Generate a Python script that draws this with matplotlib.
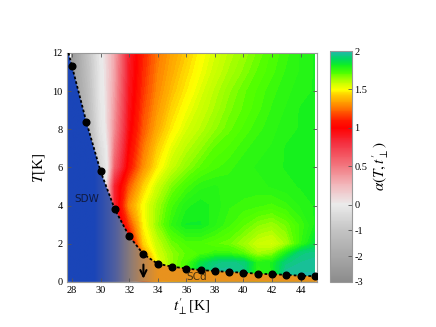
import numpy as np
import matplotlib
matplotlib.use('Agg')
import matplotlib.pyplot as plt
from matplotlib.colors import LinearSegmentedColormap, FuncNorm
from matplotlib.patches import Polygon
from matplotlib.cm import ScalarMappable

plt.rcParams['mathtext.fontset'] = 'stix'

# Rejilla de datos alpha(T, t_perp)
t_perp = [28, 29, 30, 31, 32, 33, 34, 35, 36, 37, 38, 39, 40, 41, 42, 43, 44, 45]
T_vals = [0, 0.5, 1, 1.5, 2, 3, 4, 5, 6, 7, 8, 9, 10, 11, 12]
alpha = [
    [-2, -2, -2, -2, -1, 1.0, 1.4, 1.6, 1.75, 1.9, 1.97, 1.97, 1.95, 1.75, 1.8, 1.97, 1.98, 1.98],
    [-2, -2, -2, -2, -1, 1.1, 1.45, 1.62, 1.75, 1.9, 1.97, 1.97, 1.95, 1.76, 1.8, 1.97, 1.98, 1.98],
    [-2, -2, -2, -1.5, 0, 1.2, 1.5, 1.65, 1.72, 1.85, 1.93, 1.95, 1.93, 1.78, 1.8, 1.93, 1.96, 1.97],
    [-2, -2, -2, -1.5, 0.5, 1.3, 1.55, 1.65, 1.7, 1.72, 1.75, 1.75, 1.7, 1.62, 1.65, 1.8, 1.93, 1.95],
    [-2, -2, -2, -1.0, 0.9, 1.42, 1.58, 1.68, 1.72, 1.72, 1.7, 1.68, 1.63, 1.57, 1.55, 1.62, 1.75, 1.85],
    [-2, -2, -2, 0.8, 1.15, 1.48, 1.65, 1.76, 1.82, 1.82, 1.78, 1.74, 1.7, 1.66, 1.64, 1.68, 1.74, 1.8],
    [-2, -2, -1.0, 0.85, 1.3, 1.5, 1.63, 1.73, 1.79, 1.81, 1.79, 1.76, 1.75, 1.74, 1.73, 1.75, 1.78, 1.8],
    [-2, -2, -0.5, 0.85, 1.2, 1.42, 1.57, 1.67, 1.73, 1.77, 1.78, 1.77, 1.77, 1.77, 1.78, 1.79, 1.8, 1.8],
    [-2, -2, -0.6, 0.6, 1.05, 1.3, 1.47, 1.58, 1.65, 1.7, 1.73, 1.75, 1.77, 1.78, 1.79, 1.8, 1.8, 1.8],
    [-2.2, -1.9, -0.4, 0.5, 1.0, 1.25, 1.42, 1.53, 1.6, 1.65, 1.7, 1.72, 1.75, 1.77, 1.78, 1.8, 1.8, 1.8],
    [-2.3, -1.7, -0.2, 0.42, 0.95, 1.2, 1.36, 1.47, 1.55, 1.6, 1.65, 1.69, 1.72, 1.75, 1.77, 1.79, 1.8, 1.8],
    [-2.4, -1.5, -0.15, 0.38, 0.92, 1.17, 1.32, 1.43, 1.51, 1.57, 1.62, 1.67, 1.7, 1.73, 1.76, 1.78, 1.8, 1.8],
    [-2.5, -1.4, -0.1, 0.35, 0.9, 1.14, 1.29, 1.39, 1.47, 1.54, 1.6, 1.65, 1.69, 1.72, 1.75, 1.77, 1.79, 1.8],
    [-2.5, -1.3, -0.08, 0.33, 0.88, 1.12, 1.27, 1.36, 1.44, 1.51, 1.57, 1.62, 1.66, 1.7, 1.73, 1.76, 1.78, 1.8],
    [-2.5, -1.2, -0.05, 0.32, 0.87, 1.1, 1.25, 1.34, 1.41, 1.49, 1.55, 1.6, 1.64, 1.68, 1.72, 1.75, 1.78, 1.8],
]

# Linea de transicion (puntos negros)
t_c = [28, 29, 30, 31, 32, 33, 34, 35, 36, 37, 38, 39, 40, 41, 42, 43, 44, 45]
T_c = [11.3, 8.4, 5.8, 3.8, 2.4, 1.45, 0.95, 0.8, 0.7, 0.62, 0.57, 0.52, 0.48, 0.43, 0.4, 0.37, 0.32, 0.3]
t_top, T_top = 27.76, 12.0  # donde la linea corta el borde superior

# Escala de colores (no lineal)
cb_ticks = [-3, -2, -1, 0, 0.5, 1, 1.5, 2]
cb_ticklabels = ['-3', '-2', '-1', '0', '0.5', '1', '1.5', '2']
stop_vals = [-3, -1, 0, 0.25, 0.5, 0.8, 1.0, 1.1, 1.3, 1.42, 1.5, 1.62, 1.72, 1.82, 1.9, 2.0]
stop_cols = ['#8c8c8c', '#c4c4c4', '#ebebeb', '#f2b8bc', '#f27880', '#f43040', '#ff0000', '#ff1a00',
             '#ff8c00', '#ffc800', '#ffff00', '#b0ff00', '#50ff00', '#10f020', '#00d860', '#20b8a8']

# Relleno SDW -> SCd bajo la linea
fill_t = [27.6, 29.5, 31.0, 32.0, 33.0, 34.0, 45.2]
fill_cols = ['#1a45b8', '#1a45b8', '#52609e', '#8a7a78', '#c0874c', '#e8921e', '#e8921e']

seg_x = [-3, 0, 2]
seg_y = [0, 0.335, 1]

def fwd(v):
    return np.interp(v, seg_x, seg_y)

def inv(v):
    return np.interp(v, seg_y, seg_x)

norm = FuncNorm((fwd, inv), vmin=-3, vmax=2)
cmap = LinearSegmentedColormap.from_list('alfa', list(zip(fwd(np.array(stop_vals)), stop_cols)))

fig = plt.figure(figsize=(4.36, 3.27), dpi=100)
ax = fig.add_axes([0.153, 0.138, 0.574, 0.700])

levels = inv(np.linspace(0, 1, 150))
ax.contourf(t_perp, T_vals, np.array(alpha), levels=levels, cmap=cmap, norm=norm, zorder=1, extend='both')

# gradiente azul -> naranja recortado por la linea de transicion
xmin, xmax = fill_t[0], fill_t[-1]
fcmap = LinearSegmentedColormap.from_list(
    'fase', list(zip((np.array(fill_t) - xmin) / (xmax - xmin), fill_cols)))
grad = np.linspace(0, 1, 400).reshape(1, -1)
im = ax.imshow(grad, extent=[xmin, xmax, 0, 12.5], aspect='auto', cmap=fcmap,
               origin='lower', interpolation='bilinear', zorder=1.5)
poly_xy = [(xmin, 12.5), (t_top, T_top)] + list(zip(t_c, T_c)) + [(xmax, T_c[-1]), (xmax, 0), (xmin, 0)]
clip = Polygon(poly_xy, closed=True, transform=ax.transData)
im.set_clip_path(clip)

ax.plot([t_top] + t_c, [T_top] + T_c, color='black', linestyle=(0, (1.5, 1.2)), lw=1.3, zorder=3)
ax.plot(t_c, T_c, 'o', color='black', markersize=4.8, zorder=3)

ax.text(29.05, 4.35, 'SDW', fontsize=7.5, color='#101a40', ha='center', va='center', zorder=4)
ax.text(36.7, 0.28, 'SCd', fontsize=7.5, color='#4a3410', ha='center', va='center', zorder=4)
ax.annotate('', xy=(33, 0.02), xytext=(33, 1.05), zorder=4,
            arrowprops=dict(arrowstyle='->,head_length=0.45,head_width=0.22', color='black', lw=1.5))

ax.set_xlim(27.63, 45.15)
ax.set_ylim(0, 12)
ax.set_xticks(range(28, 46, 2))
ax.set_yticks(range(0, 13, 2))
ax.tick_params(direction='in', top=True, right=True, length=3, width=0.6, color='#555555',
               labelsize=7.5, pad=3)
for lab in ax.get_xticklabels() + ax.get_yticklabels():
    lab.set_fontfamily('Liberation Serif')
for s in ax.spines.values():
    s.set_color('#999999')
    s.set_linewidth(0.8)
ax.set_xlabel(r"$t_{\perp}^{\prime}$[K]", fontsize=11, family='Liberation Serif', labelpad=1)
ax.set_ylabel(r"$T$[K]", fontsize=11, family='Liberation Serif', labelpad=4)

cax = fig.add_axes([0.757, 0.138, 0.050, 0.706])
sm = ScalarMappable(norm=norm, cmap=cmap)
cb = fig.colorbar(sm, cax=cax, ticks=cb_ticks)
cb.ax.set_yticklabels(cb_ticklabels)
cb.ax.tick_params(direction='in', length=3, width=0.6, labelsize=7.5, pad=2, color='#555555')
for lab in cb.ax.get_yticklabels():
    lab.set_fontfamily('Liberation Serif')
cb.outline.set_edgecolor('#999999')
cb.outline.set_linewidth(0.8)
cb.set_label(r"$\alpha(T,t_{\perp}^{\prime})$", fontsize=11, labelpad=2)

fig.savefig('out.png', dpi=100)
